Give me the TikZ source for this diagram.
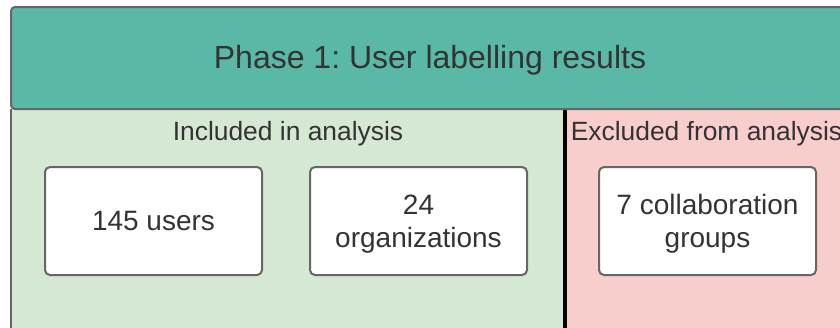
\documentclass[tikz,border=0pt]{standalone}
\usepackage{fontspec}
\setmainfont{Liberation Sans}
\usetikzlibrary{positioning}
\definecolor{headteal}{HTML}{5AB8A6}
\definecolor{incgreen}{HTML}{D5E8D4}
\definecolor{excpink}{HTML}{F8CECC}
\definecolor{edgegray}{HTML}{666666}
\definecolor{textgray}{HTML}{333333}
\frenchspacing
\newcommand{\toplift}{\rule{0pt}{13pt}}
\tikzset{
	countbox/.style={draw=edgegray, line width=1pt, fill=white, rounded corners=2.5pt,
		minimum width=108.5pt, minimum height=54pt, align=center, text=textgray,
		font=\fontsize{14}{16.5}\selectfont},
	grouplabel/.style={text=textgray, font=\fontsize{13.2}{15}\selectfont}
}

\begin{document}
\begin{tikzpicture}[x=0.5pt, y=-0.5pt]
			%%%%% START %%%%%
			
			\useasboundingbox (0, 0) rectangle (840, 327);
			\clip (0, 0) rectangle (840, 327);
			
			\fill[incgreen] (11, 109) rectangle (565, 340);
			\fill[excpink] (565, 109) rectangle (850, 340);
			\draw[edgegray, line width=1pt] (11, 109) -- (11, 340);
			\draw[black, line width=1.7pt] (565, 109) -- (565, 340);
			
			\draw[edgegray, fill=headteal, line width=1pt, rounded corners=2pt] (11, 7) rectangle (849, 109);
			\node[text=textgray, font=\fontsize{16}{18}\selectfont] (phase) at (430, 60) {Phase 1: User labelling results};
			
			\node[grouplabel] (incl) at (288, 134) {Included in analysis};
			\node[grouplabel] (excl) at (706.5, 134) {Excluded from analysis};
			
			\node[countbox] (users) at (153.5, 221) {145 users};
			\node[countbox, right=23pt of users] (orgs) {\toplift 24\\organizations};
			\node[countbox] (groups) at (707.5, 221) {\toplift 7 collaboration\\groups};
			
			%%%%% END %%%%%
\end{tikzpicture}
\end{document}
